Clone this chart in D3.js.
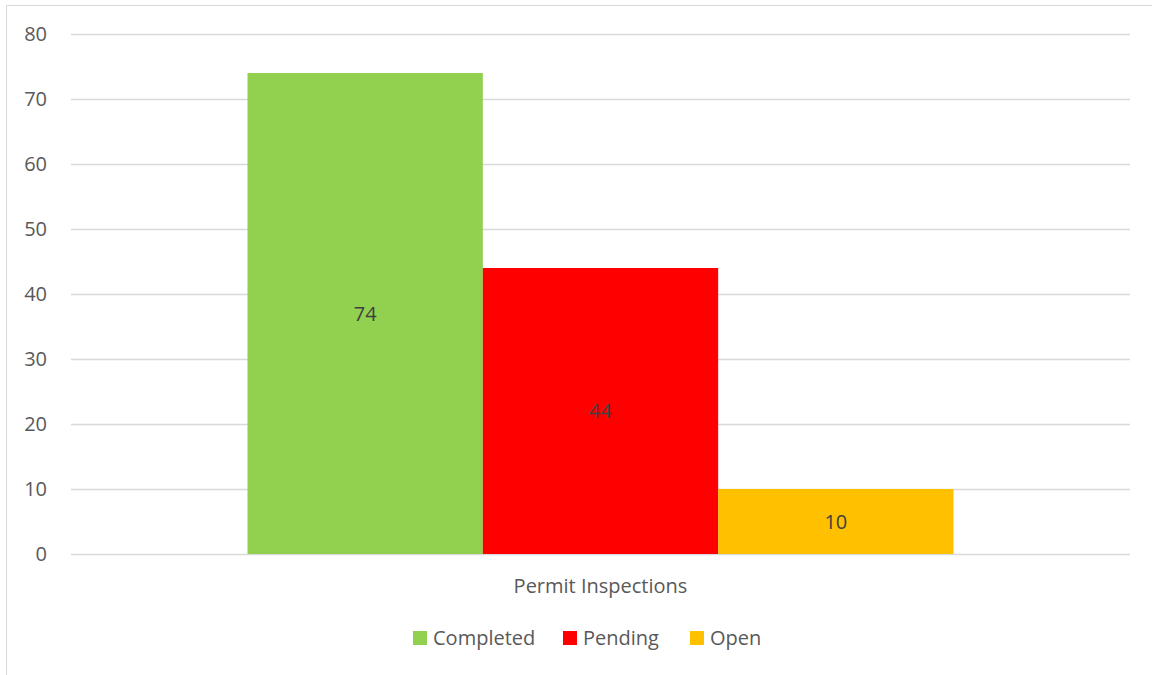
<!DOCTYPE html>
<html>
<head>
<meta charset="utf-8">
<script src="https://cdn.jsdelivr.net/npm/d3@7"></script>
<style>
  html, body { margin: 0; padding: 0; background: #fff; }
  svg { display: block; font-family: "Open Sans", "Noto Sans", sans-serif; }
</style>
</head>
<body>
<svg id="chart" width="1152" height="675"></svg>
<script>
const categories = ["Permit Inspections"];
const seriesNames = ["Completed", "Pending", "Open"];
const seriesValues = [74, 44, 10];
const seriesColors = ["#92D050", "#FF0000", "#FFC000"];
const yTicks = [0, 10, 20, 30, 40, 50, 60, 70, 80];

const FS = 20;
const svg = d3.select("#chart");

// chart frame
svg.append("rect")
  .attr("x", 6.5).attr("y", 5.5)
  .attr("width", 1200).attr("height", 700)
  .attr("fill", "#fff").attr("stroke", "#d9d9d9").attr("stroke-width", 1);

const plot = { left: 71, right: 1130, top: 34, bottom: 554 };

const y = d3.scaleLinear().domain([0, 80]).range([plot.bottom, plot.top]);
const x0 = d3.scaleBand().domain(categories).range([plot.left, plot.right])
  .paddingInner(0.2).paddingOuter(0.2);
const x1 = d3.scaleBand().domain(seriesNames).range([0, x0.bandwidth()]).padding(0);

// gridlines
const yAxis = d3.axisLeft(y).tickValues(yTicks).tickSize(-(plot.right - plot.left)).tickPadding(24);
const gAxis = svg.append("g").attr("transform", `translate(${plot.left},0)`).call(yAxis);
gAxis.select(".domain").remove();
gAxis.selectAll(".tick line").attr("stroke", "#d9d9d9").attr("stroke-width", 1.3);
gAxis.selectAll(".tick text")
  .attr("fill", "#595959").attr("font-size", FS).attr("font-family", "Open Sans, sans-serif");

// bars
const data = seriesNames.map((s, i) => ({ cat: categories[0], name: s, value: seriesValues[i], color: seriesColors[i] }));
const gBars = svg.append("g");
gBars.selectAll("rect").data(data).join("rect")
  .attr("x", d => x0(d.cat) + x1(d.name))
  .attr("y", d => y(d.value))
  .attr("width", x1.bandwidth())
  .attr("height", d => y(0) - y(d.value))
  .attr("fill", d => d.color);

// data labels
gBars.selectAll("text").data(data).join("text")
  .attr("x", d => x0(d.cat) + x1(d.name) + x1.bandwidth() / 2)
  .attr("y", d => (y(d.value) + y(0)) / 2)
  .attr("dy", "0.35em")
  .attr("text-anchor", "middle")
  .attr("font-size", FS)
  .attr("fill", "#404040")
  .text(d => d.value);

// category axis label
svg.selectAll(".cat").data(categories).join("text")
  .attr("class", "cat")
  .attr("x", d => x0(d) + x0.bandwidth() / 2)
  .attr("y", 586).attr("dy", "0.35em")
  .attr("text-anchor", "middle")
  .attr("font-size", FS).attr("fill", "#595959")
  .text(d => d);

// legend
const legendX = [413, 563, 690];
const leg = svg.append("g");
const items = leg.selectAll("g").data(data).join("g")
  .attr("transform", (d, i) => `translate(${legendX[i]},631)`);
items.append("rect").attr("width", 14).attr("height", 14).attr("fill", d => d.color);
items.append("text").attr("x", 20).attr("y", 7).attr("dy", "0.35em")
  .attr("font-size", FS).attr("fill", "#595959").text(d => d.name);
</script>
</body>
</html>
